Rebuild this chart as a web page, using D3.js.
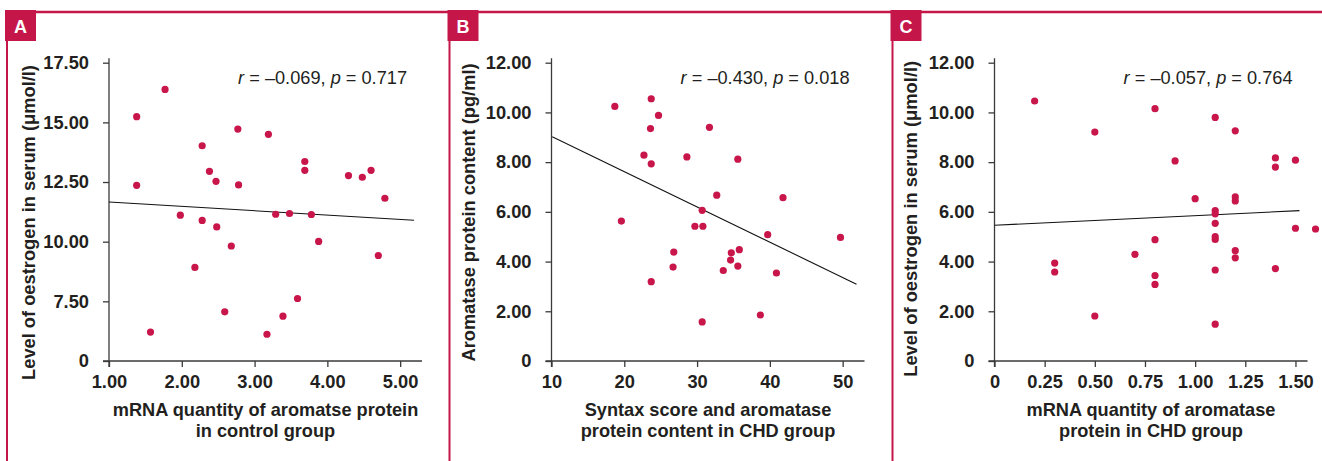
<!DOCTYPE html>
<html>
<head>
<meta charset="utf-8">
<script src="https://cdn.jsdelivr.net/npm/d3@7"></script>
<style>
  html, body { margin: 0; padding: 0; background: #ffffff; }
  svg { display: block; font-family: "Liberation Sans", Arial, Helvetica, sans-serif; }
</style>
</head>
<body>
<svg id="chart" width="1322" height="461"></svg>
<script>
// ---------- Data ----------
const panelLetters = ["A", "B", "C"];

// Panel A: control group
const aX = [1.38,1.77,1.38,1.57,1.98,2.28,2.38,2.47,2.28,2.48,2.18,2.68,2.59,2.77,2.78,3.19,3.17,3.29,3.48,3.39,3.59,3.69,3.69,3.78,3.88,4.29,4.48,4.60,4.79,4.70];
const aY = [15.24,16.38,12.36,6.21,11.11,14.02,12.95,12.53,10.89,10.62,8.92,9.82,7.06,14.72,12.38,14.50,6.12,11.15,11.18,6.88,7.62,13.36,12.99,11.14,10.01,12.77,12.70,12.99,11.82,9.42];
const aFitX = [1.0, 5.19];
const aFitY = [11.66, 10.90];
const aXTicks = [1, 2, 3, 4, 5];
const aXTickLabels = ["1.00", "2.00", "3.00", "4.00", "5.00"];
const aYTicks = [5, 7.5, 10, 12.5, 15, 17.5];
const aYTickLabels = ["0", "7.50", "10.00", "12.50", "15.00", "17.50"];
const aXTitle = ["mRNA quantity of aromatse protein", "in control group"];
const aYTitle = "Level of oestrogen in serum (\u03bcmol/l)";
const aStat = { r: "\u20130.069", p: "0.717" };

// Panel B: CHD group, syntax score vs aromatase protein
const bX = [18.7,23.7,24.7,23.6,31.7,22.7,23.7,28.6,35.6,32.7,41.8,30.7,19.6,29.7,30.8,39.7,49.7,26.8,34.7,35.8,34.6,26.7,33.6,35.6,40.9,23.7,38.7,30.7];
const bY = [10.24,10.55,9.88,9.35,9.40,8.28,7.93,8.21,8.12,6.67,6.57,6.06,5.63,5.42,5.42,5.08,4.97,4.38,4.35,4.48,4.06,3.78,3.64,3.82,3.54,3.19,1.85,1.57];
const bFitX = [10.1, 51.9];
const bFitY = [9.02, 3.09];
const bXTicks = [10, 20, 30, 40, 50];
const bXTickLabels = ["10", "20", "30", "40", "50"];
const bYTicks = [0, 2, 4, 6, 8, 10, 12];
const bYTickLabels = ["0", "2.00", "4.00", "6.00", "8.00", "10.00", "12.00"];
const bXTitle = ["Syntax score and aromatase", "protein content in CHD group"];
const bYTitle = "Aromatase protein content (pg/ml)";
const bStat = { r: "\u20130.430", p: "0.018" };

// Panel C: CHD group mRNA vs oestrogen
const cX = [0.2,0.3,0.3,0.5,0.5,0.7,0.8,0.8,0.8,0.8,0.9,1.0,1.1,1.1,1.1,1.1,1.1,1.1,1.1,1.1,1.2,1.2,1.2,1.2,1.2,1.4,1.4,1.4,1.5,1.5,1.6];
const cY = [10.46,3.94,3.58,9.21,1.81,4.29,10.15,4.88,3.44,3.08,8.05,6.53,9.80,6.05,5.92,5.54,5.00,4.89,3.66,1.48,9.26,6.60,6.44,4.44,4.15,8.17,7.80,3.72,8.08,5.34,5.31];
const cFitX = [0.0, 1.52];
const cFitY = [5.46, 6.05];
const cXTicks = [0, 0.25, 0.5, 0.75, 1.0, 1.25, 1.5];
const cXTickLabels = ["0", "0.25", "0.50", "0.75", "1.00", "1.25", "1.50"];
const cYTicks = [0, 2, 4, 6, 8, 10, 12];
const cYTickLabels = ["0", "2.00", "4.00", "6.00", "8.00", "10.00", "12.00"];
const cXTitle = ["mRNA quantity of aromatase", "protein in CHD group"];
const cYTitle = "Level of oestrogen in serum (\u03bcmol/l)";
const cStat = { r: "\u20130.057", p: "0.764" };

// ---------- Layout / style ----------
const RED = "#c5164a";
const DOT = "#c8164b";
const INK = "#231f20";
const AXIS = "#3a3a3a";
const TICK_FS = 18.3;
const TITLE_FS = 18.2;
const YTITLE_FS = 17.4;
const STAT_FS = 18.2;

const panels = [
  { letter: panelLetters[0], ox: 7,     xs: aX, ys: aY, fitX: aFitX, fitY: aFitY, xDom: [1, 5.3],  yDom: [5, 17.5], xT: aXTicks, xTL: aXTickLabels, yT: aYTicks, yTL: aYTickLabels, xTitle: aXTitle, yTitle: aYTitle, stat: aStat, yTitleCX: 21.3, yTitleCY: 222.5, yTitleLen: 315 },
  { letter: panelLetters[1], ox: 449.5, xs: bX, ys: bY, fitX: bFitX, fitY: bFitY, xDom: [10, 53],  yDom: [0, 12],    xT: bXTicks, xTL: bXTickLabels, yT: bYTicks, yTL: bYTickLabels, xTitle: bXTitle, yTitle: bYTitle, stat: bStat, yTitleCX: 18.8, yTitleCY: 212.5, yTitleLen: 298 },
  { letter: panelLetters[2], ox: 892.5, xs: cX, ys: cY, fitX: cFitX, fitY: cFitY, xDom: [0, 1.56], yDom: [0, 12],    xT: cXTicks, xTL: cXTickLabels, yT: cYTicks, yTL: cYTickLabels, xTitle: cXTitle, yTitle: cYTitle, stat: cStat, yTitleCX: 18.2, yTitleCY: 218.8, yTitleLen: 316 }
];

const svg = d3.select("#chart");

// frame: top red rule
svg.append("line")
  .attr("x1", 5).attr("x2", 1322).attr("y1", 12).attr("y2", 12)
  .attr("stroke", RED).attr("stroke-width", 2.5);

panels.forEach(p => {
  const left = p.ox + 102;
  const plotW = 313;
  const top = 62.7, bottom = 361;
  const x = d3.scaleLinear().domain(p.xDom).range([left, left + plotW]);
  const y = d3.scaleLinear().domain(p.yDom).range([bottom, top]);

  const g = svg.append("g");

  // vertical red rule
  g.append("line")
    .attr("x1", p.ox).attr("x2", p.ox).attr("y1", 11).attr("y2", 461)
    .attr("stroke", RED).attr("stroke-width", 2);

  // letter box
  g.append("rect")
    .attr("x", p.ox - 2).attr("y", 10).attr("width", 31).attr("height", 31)
    .attr("fill", RED);
  g.append("text")
    .attr("x", p.ox + 13.5).attr("y", 33.3)
    .attr("text-anchor", "middle")
    .attr("fill", "#ffffff")
    .attr("font-weight", "bold")
    .attr("font-size", 18)
    .text(p.letter);

  // axes
  const yAxis = d3.axisLeft(y)
    .tickValues(p.yT)
    .tickFormat((d, i) => p.yTL[i])
    .tickSize(6)
    .tickPadding(14);
  const xAxis = d3.axisBottom(x)
    .tickValues(p.xT)
    .tickFormat((d, i) => p.xTL[i])
    .tickSize(6)
    .tickPadding(8);

  const gy = g.append("g").attr("transform", `translate(${left},0)`).call(yAxis);
  const gx = g.append("g").attr("transform", `translate(0,${bottom})`).call(xAxis);
  [gy, gx].forEach(ax => {
    ax.attr("font-size", TICK_FS).attr("font-family", "'Liberation Sans', Arial, sans-serif");
    ax.select(".domain").remove();
    ax.selectAll(".tick line").attr("stroke", AXIS).attr("stroke-width", 1.3);
    ax.selectAll(".tick text")
      .attr("fill", INK)
      .style("font-size", TICK_FS + "px")
      .style("font-weight", "bold");
  });

  // axis lines
  g.append("line")
    .attr("x1", left).attr("x2", left)
    .attr("y1", y(p.yDom[1]) - 4.5).attr("y2", bottom + 6)
    .attr("stroke", AXIS).attr("stroke-width", 1.3);
  g.append("line")
    .attr("x1", left - 6).attr("x2", left + plotW)
    .attr("y1", bottom).attr("y2", bottom)
    .attr("stroke", AXIS).attr("stroke-width", 1.3);

  // regression line
  g.append("line")
    .attr("x1", x(p.fitX[0])).attr("y1", y(p.fitY[0]))
    .attr("x2", x(p.fitX[1])).attr("y2", y(p.fitY[1]))
    .attr("stroke", "#111").attr("stroke-width", 1.1);

  // points
  g.append("g").selectAll("circle")
    .data(p.xs.map((v, i) => [v, p.ys[i]]))
    .join("circle")
    .attr("cx", d => x(d[0]))
    .attr("cy", d => y(d[1]))
    .attr("r", 3.6)
    .attr("fill", DOT);

  // stat annotation
  const st = g.append("text")
    .attr("x", left + 298).attr("y", 83.5)
    .attr("text-anchor", "end")
    .style("font-size", STAT_FS + "px")
    .attr("fill", INK);
  st.append("tspan").attr("font-style", "italic").text("r");
  st.append("tspan").text(` = ${p.stat.r}, `);
  st.append("tspan").attr("font-style", "italic").text("p");
  st.append("tspan").text(` = ${p.stat.p}`);

  // x title
  const cx = left + plotW / 2;
  p.xTitle.forEach((line, i) => {
    g.append("text")
      .attr("x", cx).attr("y", 415.5 + i * 21)
      .attr("text-anchor", "middle")
      .style("font-size", TITLE_FS + "px")
      .style("font-weight", "bold")
      .attr("fill", INK)
      .text(line);
  });

  // y title (font size fitted to the measured length in the reference)
  const yt = g.append("text")
    .attr("transform", `translate(${p.ox + p.yTitleCX},${p.yTitleCY}) rotate(-90)`)
    .attr("text-anchor", "middle")
    .attr("dy", "0.35em")
    .style("font-size", YTITLE_FS + "px")
    .style("font-weight", "bold")
    .attr("fill", INK)
    .text(p.yTitle);
  const len = yt.node().getComputedTextLength();
  if (len > 0) {
    const fs = Math.max(15.5, Math.min(19, YTITLE_FS * p.yTitleLen / len));
    yt.style("font-size", fs + "px");
  }
});
</script>
</body>
</html>
